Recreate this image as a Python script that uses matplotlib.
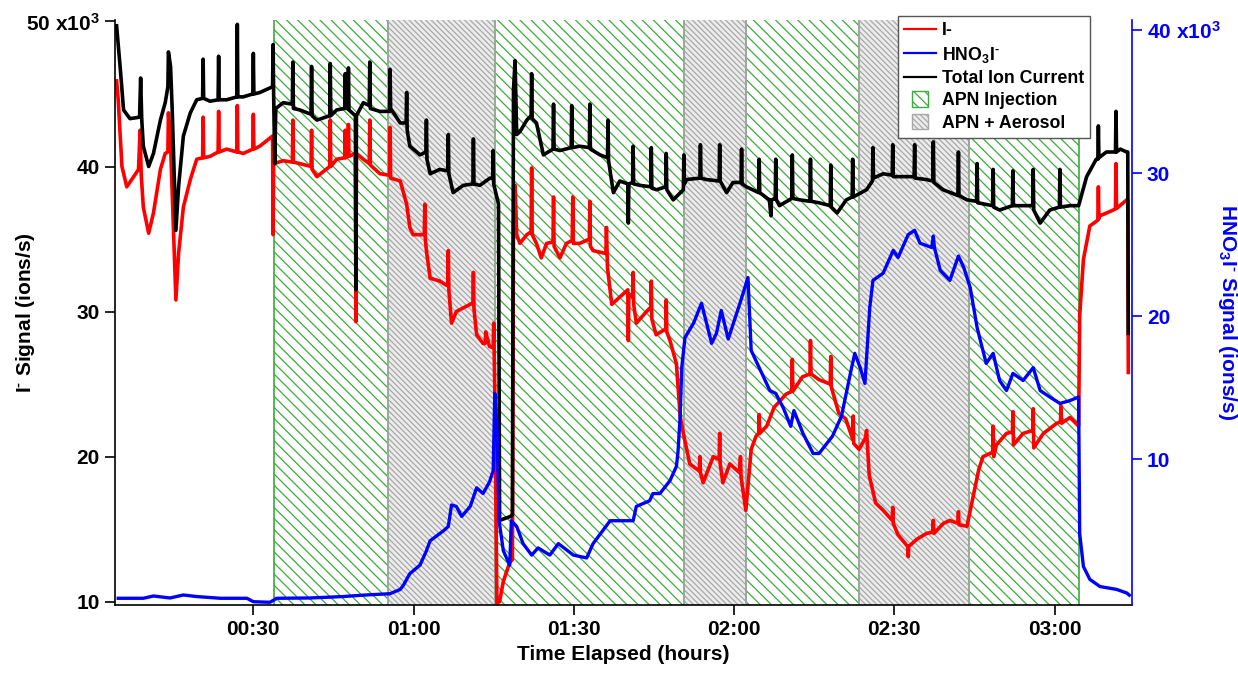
import matplotlib
matplotlib.use("Agg")
import matplotlib.pyplot as plt
from matplotlib.lines import Line2D
from matplotlib.patches import Patch, Rectangle
from matplotlib.legend_handler import HandlerPatch

# ---------------- data (time in minutes elapsed, signals in 10^3 ions/s) ----------------
tic_t = [4.4, 5.1, 5.7, 6.9, 8.7, 8.9, 9.1, 9.4, 10.4, 11.3, 12.6, 13.5, 14.0, 14.1, 14.5, 14.8,
         15.5, 16.0, 16.9, 18.2, 19.4, 20.5, 20.6, 20.7, 21.9, 23.4, 23.5, 23.6, 25.0, 26.9, 27.0,
         27.1, 28.1, 29.9, 30.0, 30.1, 31.2, 33.6, 33.7, 33.8, 34.0, 34.2, 35.6, 37.3, 37.4, 37.5,
         38.7, 40.8, 40.9, 41.0, 41.9, 44.3, 44.4, 44.5, 45.6, 47.1, 47.2, 47.3, 47.7, 47.8, 47.9,
         49.1, 49.2, 49.3, 50.6, 51.7, 51.8, 51.9, 53.7, 55.5, 55.6, 55.7, 57.5, 58.6, 58.7, 58.8,
         59.3, 61.2, 62.3, 62.4, 62.5, 63.1, 64.9, 66.4, 66.5, 66.6, 67.4, 69.3, 71.1, 71.2, 71.3,
         72.4, 74.3, 74.8, 74.9, 75.0, 75.9, 76.1, 78.3, 78.5, 78.7, 79.0, 79.3, 79.9, 81.2, 82.0,
         82.1, 82.2, 83.0, 84.3, 86.1, 86.2, 86.3, 87.4, 89.5, 89.6, 89.7, 91.1, 92.9, 93.0, 93.1,
         94.9, 96.3, 96.4, 96.5, 97.4, 98.6, 100.1, 100.2, 100.3, 101.0, 101.1, 101.2, 102.4,
         104.4, 104.5, 104.6, 105.5, 107.2, 107.3, 107.4, 108.6, 110.5, 110.6, 110.7, 111.1,
         113.6, 113.7, 113.8, 114.8, 117.2, 117.3, 117.4, 118.6, 119.8, 121.3, 121.4, 121.5,
         122.3, 124.6, 124.7, 124.8, 126.6, 126.9, 127.0, 127.7, 127.8, 127.9, 128.5, 130.8,
         130.9, 131.0, 132.3, 134.2, 134.3, 134.4, 135.9, 138.0, 138.1, 138.2, 139.3, 141.0,
         142.1, 142.2, 142.3, 144.8, 145.9, 146.0, 146.1, 147.9, 149.6, 149.7, 149.8, 151.0,
         153.7, 153.8, 153.9, 156.0, 157.2, 157.3, 157.4, 159.1, 161.9, 162.0, 162.1, 163.6,
         165.4, 165.5, 165.6, 168.4, 168.5, 168.6, 169.7, 172.1, 172.2, 172.3, 174.1, 175.9,
         176.0, 176.1, 177.3, 179.1, 180.9, 181.0, 181.1, 182.9, 184.5, 186.0, 187.8, 188.1,
         188.2, 188.3, 189.7, 191.4, 191.5, 191.6, 192.3, 193.5, 193.7, 193.8]
tic_v = [49.7, 46.7, 43.9, 43.3, 43.4, 46.1, 43.3, 41.4, 40.0, 40.9, 43.2, 44.4, 45.5, 47.9, 46.9, 44.0,
         35.6, 38.6, 42.1, 43.7, 44.6, 44.7, 47.4, 44.7, 44.5, 44.6, 47.6, 44.6, 44.6, 44.8, 49.8,
         44.8, 44.8, 45.0, 47.8, 45.0, 45.1, 45.5, 48.4, 45.0, 40.2, 44.0, 44.4, 44.3, 47.2, 44.0,
         43.9, 43.6, 46.9, 43.5, 43.2, 43.5, 47.1, 43.5, 43.9, 44.0, 46.4, 44.0, 44.0, 46.8, 43.9,
         43.5, 31.5, 43.5, 44.4, 44.2, 47.2, 44.0, 43.8, 43.8, 46.7, 44.0, 43.0, 43.0, 45.1, 42.5,
         41.4, 40.8, 41.0, 43.2, 40.5, 39.5, 39.8, 39.7, 42.2, 39.5, 38.2, 38.7, 38.8, 41.9, 38.8,
         38.7, 39.2, 39.2, 41.1, 38.8, 37.4, 15.6, 15.9, 16.0, 45.3, 47.3, 42.2, 42.4, 43.2, 43.5,
         46.4, 43.3, 43.0, 40.8, 41.2, 44.3, 41.2, 41.1, 41.3, 44.2, 41.3, 41.4, 41.3, 44.3, 41.2,
         40.8, 40.6, 43.2, 40.4, 38.2, 39.0, 38.8, 36.1, 38.8, 38.9, 41.4, 38.8, 38.7,
         38.6, 41.3, 38.5, 38.4, 38.6, 40.9, 38.4, 37.7, 38.4, 40.8, 38.8, 39.1,
         39.2, 41.5, 39.2, 39.1, 39.0, 41.5, 39.0, 38.2, 38.9, 38.9, 41.2, 38.8,
         38.6, 38.2, 40.5, 38.2, 37.7, 36.6, 37.7, 37.8, 40.5, 37.7, 37.3, 37.8,
         40.8, 37.8, 37.7, 37.6, 40.5, 37.6, 37.5, 37.3, 40.1, 37.2, 36.8, 37.7,
         37.9, 40.5, 37.9, 38.4, 39.0, 41.3, 39.2, 39.5, 39.4, 41.5, 39.3, 39.3,
         39.3, 41.5, 39.2, 39.1, 39.0, 41.7, 38.9, 38.4, 38.0, 41.0, 38.0, 37.7,
         37.6, 40.2, 37.5, 37.3, 39.8, 37.2, 37.0, 37.3, 39.7, 37.3, 37.3, 37.3,
         39.8, 37.0, 36.1, 37.0, 37.2, 39.8, 37.2, 37.3, 37.3, 39.3, 40.5, 40.5,
         42.8, 40.6, 41.0, 41.0, 43.8, 41.0, 41.2, 41.0, 41.0, 28.5]

iod_t = [4.4, 4.7, 5.4, 6.3, 7.6, 8.5, 8.8, 9.0, 9.4, 10.4, 11.3, 12.6, 13.5, 14.0, 14.1, 14.5,
         15.1, 15.5, 16.0, 16.9, 18.2, 19.4, 20.5, 20.6, 20.7, 21.9, 23.4, 23.5, 23.6, 25.0, 26.9,
         27.0, 27.1, 28.1, 29.9, 30.0, 30.1, 31.2, 33.6, 33.7, 33.8, 35.6, 37.3, 37.4, 37.5, 38.7,
         40.8, 40.9, 41.0, 41.9, 44.3, 44.4, 44.5, 45.6, 47.1, 47.2, 47.3, 47.7, 47.8, 47.9, 49.1,
         49.2, 49.3, 50.6, 51.7, 51.8, 51.9, 53.7, 55.5, 55.6, 55.7, 57.5, 58.7, 59.3, 59.9, 61.2,
         62.0, 62.1, 62.2, 62.4, 63.1, 64.9, 66.2, 66.4, 66.5, 66.6, 67.1, 68.0, 70.6, 71.1, 71.2,
         71.3, 71.8, 73.0, 73.4, 73.5, 74.2, 74.9, 75.0, 75.2, 75.6, 76.1, 76.8, 78.0, 78.5, 78.7,
         79.0, 79.3, 79.9, 81.2, 82.0, 82.1, 82.2, 83.0, 83.9, 84.9, 86.1, 86.2, 86.3, 87.4, 88.6,
         89.7, 89.8, 89.9, 91.1, 92.9, 93.0, 93.1, 93.6, 96.0, 96.1, 96.3, 97.1, 98.6, 100.1, 100.2,
         100.3, 101.0, 101.1, 101.2, 101.7, 103.6, 104.4, 104.5, 104.6, 105.4, 107.2, 107.3, 107.4,
         108.0, 109.2, 109.9, 110.5, 111.7, 113.5, 113.6, 113.7, 114.2, 116.1, 117.2, 117.3, 117.4,
         117.9, 119.2, 121.0, 121.2, 121.3, 122.2, 123.2, 124.1, 124.6, 124.7, 124.8, 126.1, 127.5,
         128.5, 129.7, 130.8, 130.9, 131.0, 132.8, 134.2, 134.3, 134.4, 135.9, 138.0, 138.1, 138.2,
         139.6, 140.9, 142.2, 142.3, 142.4, 143.4, 144.6, 144.8, 145.3, 146.5, 147.9, 149.6, 149.7,
         149.8, 150.7, 152.5, 152.6, 152.7, 154.2, 156.0, 157.2, 157.3, 157.4, 159.2, 160.4, 161.9,
         162.0, 162.1, 163.6, 164.9, 165.8, 166.6, 168.4, 168.5, 168.6, 169.1, 171.0, 172.1, 172.2,
         172.3, 174.1, 175.9, 176.0, 176.1, 177.9, 180.4, 181.1, 181.2, 181.3, 182.9, 184.5, 184.7,
         185.4, 186.6, 188.1, 188.2, 188.3, 188.5, 191.0, 191.4, 191.5, 191.6, 193.5, 193.7, 193.8]
iod_v = [45.9, 44.6, 40.0, 38.6, 39.3, 39.8, 42.5, 39.5, 37.2, 35.4, 36.8, 39.8, 40.9, 41.0, 43.7, 41.5,
         35.2, 30.8, 34.0, 37.2, 39.1, 40.5, 40.6, 43.4, 40.6, 40.7, 41.0, 43.8, 41.0, 41.2, 41.0,
         44.2, 41.0, 40.9, 41.2, 43.6, 41.2, 41.4, 42.1, 35.3, 40.2, 40.4, 40.3, 43.2, 40.3, 40.2,
         40.0, 42.5, 39.8, 39.3, 40.0, 43.2, 40.0, 40.5, 40.6, 42.5, 40.6, 40.7, 42.9, 40.7, 40.9,
         29.3, 40.9, 40.5, 40.2, 43.2, 40.1, 39.5, 39.4, 42.7, 39.2, 39.0, 37.4, 35.8, 35.3, 35.3,
         35.3, 37.4, 35.0, 34.2, 32.3, 32.1, 31.8, 32.0, 34.2, 31.5, 29.2, 30.0, 30.5, 30.6, 32.7,
         30.2, 28.4, 27.8, 27.8, 28.6, 27.6, 27.5, 29.2, 24.6, 9.9, 10.0, 11.4, 12.7, 12.9, 36.0,
         38.7, 35.3, 34.7, 35.3, 35.5, 39.9, 35.3, 34.7, 33.7, 34.7, 34.8, 37.9, 34.5, 33.7, 34.7,
         34.9, 37.9, 34.7, 34.7, 35.0, 37.6, 34.5, 34.2, 34.0, 35.8, 33.0, 30.5, 31.0, 31.5, 28.0,
         31.2, 31.0, 32.7, 30.5, 29.2, 30.0, 30.3, 32.1, 29.5, 28.4, 28.8, 30.8, 28.6,
         28.0, 26.4, 22.8, 21.6, 19.5, 19.0, 20.0, 18.9, 18.2, 20.0, 19.8, 21.6, 19.5,
         18.2, 19.5, 18.9, 20.0, 18.6, 16.3, 20.5, 21.4, 21.6, 22.9, 21.6, 22.1, 23.4,
         23.8, 24.3, 24.5, 26.7, 24.5, 25.5, 25.7, 28.0, 25.7, 25.3, 25.0, 26.9, 24.8,
         23.0, 22.6, 21.2, 22.8, 20.9, 20.5, 21.3, 21.8, 18.7, 16.8, 16.3, 15.6, 16.5,
         15.4, 14.6, 13.8, 13.1, 13.8, 14.3, 14.7, 14.8, 15.6, 14.7, 15.4, 15.6, 15.4,
         16.2, 15.3, 15.2, 17.5, 19.1, 20.0, 20.3, 22.1, 20.0, 20.8, 21.6, 21.7, 23.1,
         20.8, 21.6, 21.8, 23.3, 20.6, 21.6, 22.3, 22.4, 23.5, 22.3, 22.7, 22.1, 29.7,
         33.6, 35.9, 36.3, 38.6, 36.4, 36.6, 37.0, 37.1, 40.2, 37.1, 37.7, 37.7, 25.8]

hno3_t = [4.7, 9.4, 11.3, 14.4, 16.9, 19.4, 23.8, 28.8, 30.0, 33.1, 34.4, 40.6, 46.8, 50.6, 55.6,
          57.5, 58.1, 59.3, 61.2, 62.4, 63.1, 65.6, 66.5, 67.1, 68.0, 69.0, 70.6, 71.8, 73.0, 74.2,
          74.9, 75.2, 75.6, 76.0, 76.8, 78.0, 78.3, 79.3, 80.5, 82.1, 83.3, 85.5, 87.1, 89.9, 92.4,
          93.6, 96.8, 101.1, 101.7, 104.2, 104.8, 106.1, 108.0, 109.2, 109.5, 109.9, 110.2, 110.8,
          112.4, 113.9, 115.8, 116.7, 117.6, 118.9, 121.1, 122.6, 123.2, 124.7, 126.7, 127.8,
          129.2, 130.6, 131.2, 132.9, 134.8, 135.9, 138.4, 140.1, 142.0, 142.6, 143.6, 144.5,
          145.4, 146.0, 147.9, 149.8, 150.7, 152.6, 153.8, 154.8, 157.0, 157.3, 157.5, 158.6,
          160.4, 162.0, 163.0, 164.2, 165.5, 166.1, 167.2, 168.5, 169.7, 171.0, 172.2, 174.1,
          176.0, 177.3, 179.1, 181.0, 182.9, 184.5, 184.7, 185.4, 186.6, 188.5, 191.6, 193.5, 194.0]
hno3_v = [0.28, 0.28, 0.44, 0.30, 0.51, 0.40, 0.28, 0.28, 0.04, 0.0, 0.28, 0.30, 0.40, 0.50, 0.60,
          0.9, 1.2, 2.0, 2.6, 3.6, 4.3, 5.0, 5.3, 6.8, 6.7, 6.0, 6.7, 8.0, 7.6, 8.4,
          9.2, 14.6, 12.5, 5.7, 3.6, 2.6, 5.7, 5.3, 4.1, 3.3, 3.8, 3.3, 4.1, 3.3, 3.1,
          4.1, 5.7, 5.7, 6.7, 7.1, 7.6, 7.6, 8.5, 9.5, 10.5, 13.0, 16.4, 18.5,
          19.5, 20.9, 18.1, 18.8, 20.4, 18.4, 20.9, 22.7, 17.6, 16.4, 14.8, 14.6,
          13.6, 12.3, 13.4, 11.8, 10.4, 10.4, 11.6, 13.0, 16.4, 17.4, 16.4, 15.3,
          20.6, 22.5, 23.0, 24.6, 24.1, 25.7, 26.0, 25.1, 24.8, 25.6, 24.8, 23.2,
          22.5, 24.2, 23.4, 22.0, 19.2, 18.3, 16.7, 17.4, 15.5, 14.8, 16.0, 15.5,
          16.4, 14.8, 14.35, 13.9, 14.1, 14.35, 4.8, 2.5, 1.6, 1.1, 0.9, 0.65, 0.5]

injection_spans = [(33.9, 55.3), (75.2, 110.7), (122.2, 143.4), (163.9, 184.5)]
aerosol_spans = [(55.3, 75.2), (110.7, 122.2), (143.4, 163.9)]

x_ticks = [30, 60, 90, 120, 150, 180]
x_tick_labels = ["00:30", "01:00", "01:30", "02:00", "02:30", "03:00"]
left_ticks = [10, 20, 30, 40, 50]
left_tick_labels = ["10", "20", "30", "40", "50 x10$^{3}$"]
right_ticks = [10, 20, 30, 40]
right_tick_labels = ["10", "20", "30", "40 x10$^{3}$"]

# ---------------- style ----------------
FONT = "Liberation Sans"
plt.rcParams["font.family"] = [FONT, "DejaVu Sans"]
plt.rcParams["font.weight"] = "bold"
plt.rcParams["mathtext.fontset"] = "custom"
plt.rcParams["mathtext.rm"] = FONT + ":bold"
plt.rcParams["mathtext.it"] = FONT + ":bold"
plt.rcParams["mathtext.bf"] = FONT + ":bold"
plt.rcParams["mathtext.default"] = "rm"
plt.rcParams["hatch.linewidth"] = 0.9

RED = "#ff0000"
BLUE = "#0000ff"
GREEN = "#3caa3c"
GRAYL = "#a8a8a8"
SUPDASH = "$^{\\text{-}}$"

fig = plt.figure(figsize=(12.38, 6.76), dpi=100)
ax = fig.add_axes([115 / 1238, 71 / 676, 1016.5 / 1238, 585 / 676])
ax2 = ax.twinx()

# shaded periods
for (a, b) in injection_spans:
    ax.axvspan(a, b, facecolor="white", edgecolor=GREEN, hatch="\\\\\\", linewidth=0, zorder=0)
    ax.axvline(a, color=GREEN, lw=1.2, zorder=0.5)
    ax.axvline(b, color=GREEN, lw=1.2, zorder=0.5)
for (a, b) in aerosol_spans:
    ax.axvspan(a, b, facecolor="#ececec", edgecolor=GRAYL, hatch="\\\\\\\\\\\\", linewidth=0, zorder=0)
    ax.axvline(a, color=GRAYL, lw=1.2, zorder=0.6)
    ax.axvline(b, color=GRAYL, lw=1.2, zorder=0.6)

ax.plot(iod_t, iod_v, color=RED, lw=2.6, zorder=2, solid_joinstyle="round")
ax.plot(tic_t, tic_v, color="black", lw=2.6, zorder=3, solid_joinstyle="round")
ax2.plot(hno3_t, hno3_v, color=BLUE, lw=2.4, zorder=2, solid_joinstyle="round")

ax.set_xlim(4.1, 194.4)
ax.set_ylim(9.77, 50.1)
ax2.set_ylim(-0.19, 40.7)

ax.set_xticks(x_ticks)
ax.set_xticklabels(x_tick_labels)
ax.set_yticks(left_ticks)
ax.set_yticklabels(left_tick_labels)
ax2.set_yticks(right_ticks)
ax2.set_yticklabels(right_tick_labels)

for a in (ax, ax2):
    a.spines["top"].set_visible(False)
ax.spines["right"].set_visible(False)
ax2.spines["left"].set_visible(False)
ax2.spines["bottom"].set_visible(False)
for s in ("left", "bottom"):
    ax.spines[s].set_linewidth(1.2)
ax2.spines["right"].set_linewidth(1.2)
ax2.spines["right"].set_color(BLUE)

ax.tick_params(axis="both", direction="out", length=7, width=1.2, labelsize=15, pad=4, color="black")
ax2.tick_params(axis="y", direction="out", length=7, width=1.2, labelsize=15, pad=4,
                color=BLUE, labelcolor=BLUE)
for lab in ax.get_xticklabels() + ax.get_yticklabels() + ax2.get_yticklabels():
    lab.set_fontweight("bold")

ax.set_xlabel("Time Elapsed (hours)", fontsize=15, fontweight="bold", labelpad=4)
ax.set_ylabel("I" + SUPDASH + " Signal (ions/s)", fontsize=15, fontweight="bold")
ax.yaxis.set_label_coords(-0.077, 0.5)
ax2.set_ylabel("HNO$_{3}$I" + SUPDASH + " Signal (ions/s)", fontsize=15, fontweight="bold",
               color=BLUE, rotation=-90, va="bottom")
ax2.yaxis.set_label_coords(1.083, 0.5)

# legend
class SmallPatchHandler(HandlerPatch):
    def __init__(self, **kw):
        def f(legend, orig_handle, xdescent, ydescent, width, height, fontsize):
            s = height * 1.25
            return Rectangle((-xdescent + (width - s) / 2, -ydescent + (height - s) / 2), s, s)
        super().__init__(patch_func=f, **kw)

handles = [
    Line2D([], [], color=RED, lw=1.6),
    Line2D([], [], color=BLUE, lw=1.6),
    Line2D([], [], color="black", lw=1.6),
    Patch(facecolor="white", edgecolor=GREEN, hatch="\\\\\\", linewidth=1.0),
    Patch(facecolor="#ececec", edgecolor=GRAYL, hatch="\\\\\\\\\\\\", linewidth=1.0),
]
labels = ["I-", "HNO$_{3}$I" + SUPDASH, "Total Ion Current", "APN Injection", "APN + Aerosol"]
leg = ax2.legend(handles, labels, loc="upper left", bbox_to_anchor=(898 / 1238, 1 - 16 / 676),
                 bbox_transform=fig.transFigure, frameon=True, fancybox=False,
                 framealpha=1, edgecolor="#555555", handlelength=1.8, handletextpad=0.3,
                 labelspacing=0.3, borderpad=0.35, borderaxespad=0,
                 handler_map={Patch: SmallPatchHandler()}, prop={"weight": "bold", "size": 12.8})
leg.get_frame().set_linewidth(1.0)
leg.set_zorder(10)

fig.savefig("out.png", dpi=100)
